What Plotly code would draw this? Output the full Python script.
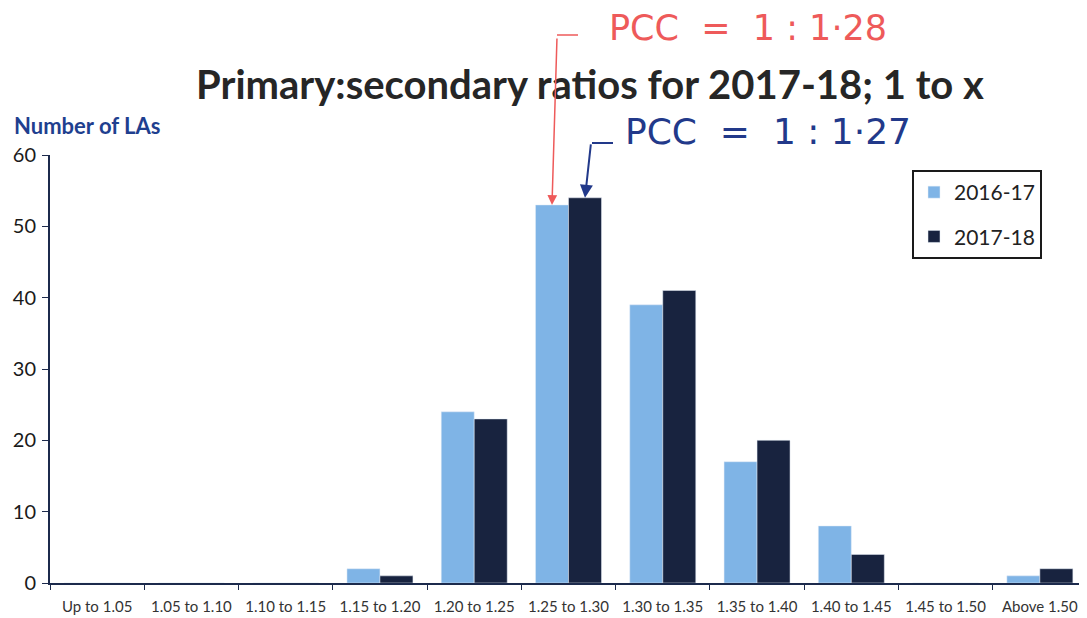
import plotly.graph_objects as go

categories = ["Up to 1.05", "1.05 to 1.10", "1.10 to 1.15", "1.15 to 1.20", "1.20 to 1.25",
              "1.25 to 1.30", "1.30 to 1.35", "1.35 to 1.40", "1.40 to 1.45", "1.45 to 1.50",
              "Above 1.50"]
vals_2016_17 = [0, 0, 0, 2, 24, 53, 39, 17, 8, 0, 1]
vals_2017_18 = [0, 0, 0, 1, 23, 54, 41, 20, 4, 0, 2]
y_ticks = [0, 10, 20, 30, 40, 50, 60]

OFF = 8  # default body margin of the page
W, H = 1087 - OFF, 618 - OFF
ML, MR, MT, MB = 42, 0, 147, 35
PW, PH = W - ML - MR, H - MT - MB


def paper(px, py):
    """window pixel -> paper coordinates"""
    return (px - OFF - ML) / PW, (H - MB - (py - OFF)) / PH


LIGHT = "#7FB4E6"
DARK = "#18233F"
AXIS = "#1C2A4C"

fig = go.Figure()
fig.add_trace(go.Bar(name="2016-17", x=categories, y=vals_2016_17, marker_color=LIGHT,
                     legendgroup="a"))
fig.add_trace(go.Bar(name="2017-18", x=categories, y=vals_2017_18, marker_color=DARK,
                     legendgroup="b"))

lx, ly = paper(912, 170)
fig.update_layout(
    width=W, height=H,
    margin=dict(l=ML, r=MR, t=MT, b=MB, autoexpand=False),
    paper_bgcolor="white", plot_bgcolor="white",
    barmode="group", bargap=0.3, bargroupgap=0,
    font=dict(family="Lato", color="#222"),
    title=dict(text="<b>Primary:secondary ratios for 2017-18; 1 to x</b>",
               x=(590 - OFF) / W, xanchor="center", y=1 - (85 - OFF) / H, yanchor="middle",
               font=dict(family="Lato", size=40, color="#262626")),
    legend=dict(x=lx, y=ly, xanchor="left", yanchor="top",
                bordercolor="#1a1a1a", borderwidth=2, bgcolor="white",
                font=dict(size=21, color="#222"), entrywidth=150,
                traceorder="grouped", tracegroupgap=14),
    showlegend=True,
)
fig.update_xaxes(type="category", showline=True, linecolor=AXIS, linewidth=2,
                 ticks="outside", tickson="boundaries", ticklen=5, tickcolor=AXIS,
                 tickfont=dict(family="Lato", size=15, color="#333333"),
                 ticklabelstandoff=9, showgrid=False)
fig.update_yaxes(range=[0, 60], tickvals=y_ticks, showline=True, linecolor=AXIS, linewidth=2,
                 ticks="outside", ticklen=6, tickcolor=AXIS, showgrid=False, zeroline=False,
                 tickfont=dict(family="Lato", size=20, color="#1a1a1a"),
                 ticklabelstandoff=2)

# y-axis title
tx, ty = paper(12, 125)
fig.add_annotation(text="<b>Number of LAs</b>", xref="paper", yref="paper", x=tx, y=ty,
                   xanchor="left", yanchor="middle", showarrow=False,
                   font=dict(family="Lato", size=22, color="#1F3F8F"))

RED = "#EE5A5A"
BLUE = "#22398A"
# handwritten notes
rx, ry = paper(748, 28)
fig.add_annotation(text="PCC  =  1 : 1·28", xref="paper", yref="paper", x=rx, y=ry,
                   xanchor="center", yanchor="middle",
                   showarrow=False, font=dict(family="DejaVu Sans", size=35, color=RED))
bx, by = paper(768, 132)
fig.add_annotation(text="PCC  =  1 : 1·27", xref="paper", yref="paper", x=bx, y=by,
                   xanchor="center", yanchor="middle",
                   showarrow=False, font=dict(family="DejaVu Sans", size=36, color=BLUE))

# arrows pointing at the 1.25 to 1.30 bars
i = categories.index("1.25 to 1.30")
fig.add_annotation(x=i - 0.175, y=vals_2016_17[i], xref="x", yref="y", text="",
                   showarrow=True, axref="pixel", ayref="pixel", ax=5, ay=-168,
                   arrowhead=2, arrowsize=1.3, arrowwidth=1.5, arrowcolor=RED, standoff=0)
fig.add_annotation(x=i + 0.175, y=vals_2017_18[i], xref="x", yref="y", text="",
                   showarrow=True, axref="pixel", ayref="pixel", ax=6, ay=-55,
                   arrowhead=2, arrowsize=1.3, arrowwidth=2, arrowcolor=BLUE, standoff=0)
# hooks at top of arrows
h1a, h1b = paper(557, 35), paper(578, 35)
fig.add_shape(type="line", xref="paper", yref="paper", x0=h1a[0], y0=h1a[1], x1=h1b[0], y1=h1b[1],
              line=dict(color=RED, width=1.5))
h2a, h2b = paper(592, 143), paper(613, 143)
fig.add_shape(type="line", xref="paper", yref="paper", x0=h2a[0], y0=h2a[1], x1=h2b[0], y1=h2b[1],
              line=dict(color=BLUE, width=2))

fig.write_html("out.html")
